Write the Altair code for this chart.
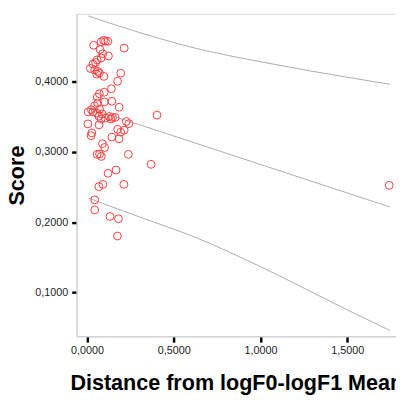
import altair as alt
import pandas as pd

# Scatter data: distance (x) and score (y)
dist = [0.038, 0.081, 0.096, 0.106, 0.120, 0.214, 0.075, 0.090, 0.123, 0.081,
        0.058, 0.049, 0.034, 0.019, 0.044, 0.062, 0.056, 0.071, 0.097, 0.194,
        0.176, 0.140, 0.099, 0.071, 0.058, 0.143, 0.099, 0.061, 0.043, 0.185,
        0.025, 0.072, 0.006, 0.034, 0.056, 0.086, 0.068, 0.081, 0.128, 0.147,
        0.162, 0.137, 0.105, 0.403, 0.226, 0.241, 0.005, 0.069, 0.176, 0.214,
        0.194, 0.027, 0.023, 0.143, 0.184, 0.089, 0.101, 0.058, 0.072, 0.082,
        0.238, 0.369, 0.121, 0.167, 0.068, 0.091, 0.212, 0.044, 0.044, 0.132,
        0.181, 0.175, 1.742]
score = [0.4515, 0.4564, 0.4585, 0.4571, 0.4571, 0.4474, 0.4453, 0.4394, 0.4362, 0.4334,
         0.4306, 0.4269, 0.4247, 0.4185, 0.4163, 0.4143, 0.4104, 0.4121, 0.4072, 0.4118,
         0.4003, 0.3896, 0.3847, 0.3826, 0.3777, 0.3719, 0.3708, 0.3696, 0.3652, 0.3634,
         0.3599, 0.3606, 0.3568, 0.3568, 0.3550, 0.3540, 0.3506, 0.3467, 0.3503, 0.3489,
         0.3489, 0.3467, 0.3478, 0.3522, 0.3432, 0.3401, 0.3397, 0.3383, 0.3320, 0.3308,
         0.3280, 0.3269, 0.3230, 0.3210, 0.3185, 0.3116, 0.3063, 0.2965, 0.2969, 0.2935,
         0.2965, 0.2823, 0.2695, 0.2742, 0.2506, 0.2538, 0.2538, 0.2319, 0.2175, 0.2082,
         0.2050, 0.1804, 0.2524]

# Fit line and prediction band
band_x = [0.007, 0.3, 0.629, 1.0, 1.5, 1.746]
upper_y = [0.493, 0.4697, 0.447, 0.428, 0.406, 0.396]
lower_y = [0.2343, 0.2077, 0.1781, 0.1368, 0.0755, 0.0462]
fit_x = [0.007, 1.746]
fit_y = [0.3624, 0.2217]

y_ticks = [0.1, 0.2, 0.3, 0.4]
x_ticks = [0.0, 0.5, 1.0, 1.5]

pts = pd.DataFrame({"x": dist, "y": score})
lines = pd.concat([
    pd.DataFrame({"x": band_x, "y": upper_y, "s": "upper"}),
    pd.DataFrame({"x": band_x, "y": lower_y, "s": "lower"}),
    pd.DataFrame({"x": fit_x, "y": fit_y, "s": "fit"}),
])

label_expr = "replace(format(datum.value, '.4f'), '.', ',')"

xscale = alt.Scale(domain=[-0.0605, 1.781], nice=False, zero=False)
yscale = alt.Scale(domain=[0.038, 0.496], nice=False, zero=False)

xaxis = alt.Axis(values=x_ticks, labelExpr=label_expr, title="Distance from logF0-logF1 Mean",
                 grid=False, domainColor="#d4d4d4", domainWidth=1.5,
                 tickColor="#000000", tickWidth=2.5, tickSize=6,
                 labelFont="Liberation Sans", labelFontSize=11, labelColor="#222222",
                 labelPadding=3,
                 titleFont="Liberation Sans", titleFontSize=22, titleFontWeight="bold",
                 titleColor="#000000", titlePadding=17)
yaxis = alt.Axis(values=y_ticks, labelExpr=label_expr, title="Score",
                 grid=False, domainColor="#d4d4d4", domainWidth=1.5,
                 tickColor="#000000", tickWidth=2.5, tickSize=5,
                 labelFont="Liberation Sans", labelFontSize=11, labelColor="#222222",
                 labelPadding=4,
                 titleFont="Liberation Sans", titleFontSize=22, titleFontWeight="bold",
                 titleColor="#000000", titlePadding=7)

line_layer = alt.Chart(lines).mark_line(color="#ababab", strokeWidth=1,
                                        interpolate="monotone").encode(
    x=alt.X("x:Q", scale=xscale, axis=xaxis),
    y=alt.Y("y:Q", scale=yscale, axis=yaxis),
    detail="s:N",
)
pt_layer = alt.Chart(pts).mark_point(shape="circle", filled=False, color="#ff3b3b",
                                     strokeWidth=1, size=64, opacity=1).encode(
    x=alt.X("x:Q", scale=xscale),
    y=alt.Y("y:Q", scale=yscale),
)

chart = alt.layer(line_layer, pt_layer).properties(
    width=326, height=329,
    autosize=alt.AutoSizeParams(type="none"),
    padding={"left": 70, "top": 2, "right": 0, "bottom": 60},
).configure_view(stroke=None).configure(background="#ffffff")

chart.save("out.html", embed_options={"renderer": "svg", "actions": False})
